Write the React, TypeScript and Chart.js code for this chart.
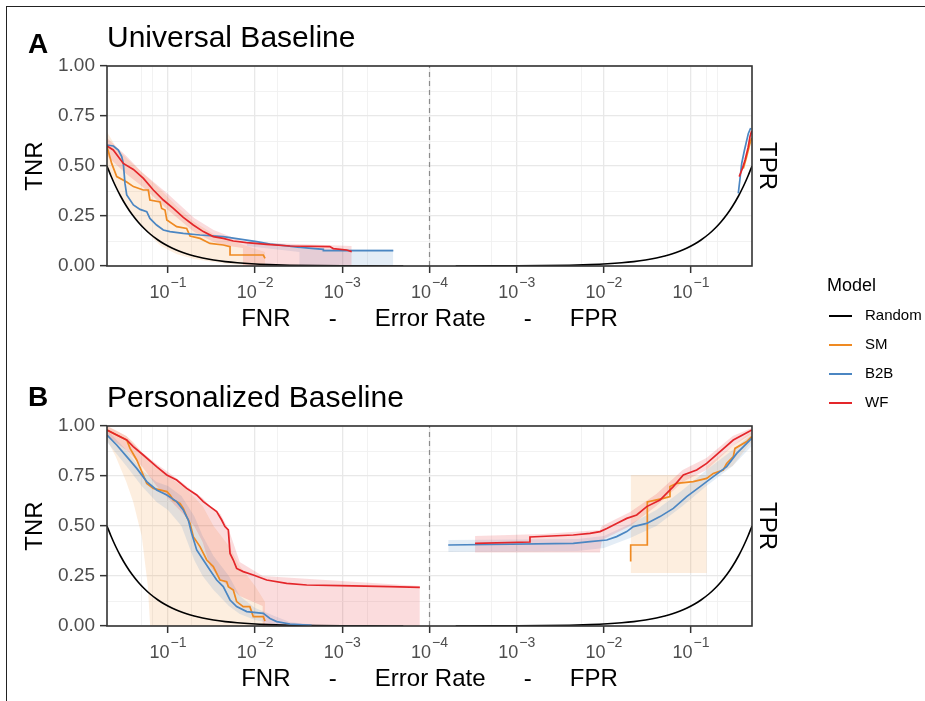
import React, { useEffect, useRef } from 'react';
import { Chart, registerables } from 'chart.js';

Chart.register(...registerables);

const FONT = "'Liberation Sans', Arial, Helvetica, sans-serif";

// ---------- axis definition ----------
const CENTER_RATE = 1e-4;
const EDGE_RATE = 0.5;
const majorRatesFNR = [0.1, 0.01, 0.001, 0.0001];
const majorRatesFPR = [0.001, 0.01, 0.1];
const minorRates = [0.2, 0.15, 0.054, 0.0056, 0.00052];
const yTickStep = 0.125;
const yMajorStep = 0.25;
const X_TITLE = 'FNR     \u2009-     \u2009Error Rate     \u2009-     \u2009FPR';

// ---------- legend ----------
const modelNames = ['Random', 'SM', 'B2B', 'WF'];
const modelColors: Record<string, string> = { Random: '#000000', SM: '#EF8A22', B2B: '#4B86C2', WF: '#E4262A' };
const bandColors: Record<string, string> = {
  SM: 'rgba(242,142,43,0.15)',
  B2B: 'rgba(75,134,194,0.15)',
  WF: 'rgba(228,38,42,0.16)',
};

// ---------- Random baseline (TNR = FNR, TPR = FPR) ----------
const randomRate = [0.5, 0.45, 0.4, 0.35, 0.3, 0.26, 0.22, 0.19, 0.16, 0.13, 0.11, 0.09, 0.075, 0.06, 0.05, 0.04, 0.03, 0.022, 0.016, 0.011, 0.007, 0.004, 0.002, 0.001, 0.0005, 0.0002];
const randomValue = [0.5, 0.45, 0.4, 0.35, 0.3, 0.26, 0.22, 0.19, 0.16, 0.13, 0.11, 0.09, 0.075, 0.06, 0.05, 0.04, 0.03, 0.022, 0.016, 0.011, 0.007, 0.004, 0.002, 0.001, 0.0005, 0.0002];

// ---------- Panel A: Universal Baseline ----------
const smA_fnr = [0.5, 0.442, 0.387, 0.297, 0.249, 0.192, 0.168, 0.161, 0.123, 0.118, 0.108, 0.103, 0.0794, 0.061, 0.0558, 0.0429, 0.033, 0.0232, 0.0194, 0.0194, 0.00805, 0.0077];
const smA_tnr = [0.597, 0.513, 0.447, 0.42, 0.397, 0.38, 0.38, 0.33, 0.32, 0.288, 0.28, 0.23, 0.197, 0.188, 0.15, 0.138, 0.113, 0.105, 0.097, 0.055, 0.055, 0.038];
const b2bA_fnr = [0.5, 0.423, 0.371, 0.339, 0.325, 0.311, 0.297, 0.249, 0.209, 0.175, 0.161, 0.135, 0.113, 0.0947, 0.0667, 0.0429, 0.0232, 0.0096, 0.00675, 0.00306, 0.00165, 0.00165, 0.00026];
const b2bA_tnr = [0.605, 0.6, 0.58, 0.547, 0.513, 0.413, 0.355, 0.305, 0.283, 0.272, 0.238, 0.205, 0.18, 0.172, 0.163, 0.155, 0.147, 0.122, 0.11, 0.093, 0.083, 0.077, 0.077];
const wfA_fnr = [0.5, 0.424, 0.325, 0.249, 0.191, 0.147, 0.113, 0.0867, 0.0667, 0.0512, 0.0393, 0.0302, 0.0232, 0.0178, 0.0125, 0.00736, 0.00398, 0.00139, 0.00127, 0.00089, 0.00078];
const wfA_tnr = [0.6, 0.58, 0.513, 0.483, 0.438, 0.38, 0.33, 0.288, 0.243, 0.205, 0.172, 0.147, 0.138, 0.125, 0.117, 0.108, 0.1, 0.097, 0.087, 0.08, 0.072];

const smA_fpr = [0.397, 0.43, 0.474, 0.495];
const smA_tpr = [0.488, 0.54, 0.613, 0.64];
const b2bA_fpr = [0.348, 0.365, 0.381, 0.41, 0.454, 0.483];
const b2bA_tpr = [0.363, 0.44, 0.513, 0.58, 0.663, 0.69];
const wfA_fpr = [0.357, 0.39, 0.416, 0.45, 0.474, 0.495];
const wfA_tpr = [0.447, 0.49, 0.53, 0.59, 0.647, 0.675];

const smA_bandRate = [0.5, 0.4, 0.3, 0.2, 0.15, 0.12, 0.08, 0.05, 0.03, 0.02, 0.0125, 0.0077];
const smA_bandLo = [0.5, 0.4, 0.3, 0.2, 0.14, 0.1, 0.06, 0.035, 0.02, 0.01, 0.005, 0.0];
const smA_bandHi = [0.67, 0.6, 0.54, 0.47, 0.42, 0.38, 0.3, 0.22, 0.16, 0.13, 0.1, 0.07];
const wfA_bandRate = [0.5, 0.3, 0.2, 0.1, 0.05, 0.03, 0.02, 0.0138, 0.0138, 0.00078];
const wfA_bandLo = [0.55, 0.46, 0.4, 0.28, 0.17, 0.12, 0.1, 0.09, 0, 0];
const wfA_bandHi = [0.64, 0.55, 0.47, 0.36, 0.24, 0.18, 0.15, 0.125, 0.12, 0.1];
const b2bA_bandRate = [0.0125, 0.0031, 0.0031, 0.00026];
const b2bA_bandLo = [0.1, 0.07, 0, 0];
const b2bA_bandHi = [0.13, 0.1, 0.085, 0.085];

// ---------- Panel B: Personalized Baseline ----------
const smB_fnr = [0.5, 0.297, 0.272, 0.228, 0.192, 0.175, 0.147, 0.103, 0.0947, 0.0868, 0.0727, 0.0667, 0.061, 0.0558, 0.0512, 0.0429, 0.0359, 0.0302, 0.0253, 0.0212, 0.0203, 0.0178, 0.0163, 0.0137, 0.0115, 0.0105, 0.00806, 0.0077];
const smB_tnr = [0.98, 0.93, 0.888, 0.83, 0.755, 0.713, 0.688, 0.672, 0.655, 0.63, 0.613, 0.588, 0.547, 0.513, 0.447, 0.397, 0.33, 0.297, 0.23, 0.222, 0.197, 0.18, 0.122, 0.097, 0.097, 0.047, 0.047, 0.025];
const b2bB_fnr = [0.5, 0.387, 0.297, 0.228, 0.175, 0.135, 0.103, 0.0794, 0.0667, 0.0584, 0.0534, 0.0468, 0.0393, 0.033, 0.0276, 0.0232, 0.0194, 0.0163, 0.0125, 0.00806, 0.00675, 0.00566, 0.00398, 0.00225];
const b2bB_tnr = [0.955, 0.905, 0.847, 0.788, 0.722, 0.68, 0.655, 0.622, 0.58, 0.53, 0.463, 0.38, 0.33, 0.28, 0.23, 0.197, 0.13, 0.097, 0.072, 0.063, 0.038, 0.022, 0.01, 0.003];
const wfB_fnr = [0.5, 0.387, 0.297, 0.25, 0.192, 0.135, 0.103, 0.0794, 0.061, 0.0468, 0.0393, 0.033, 0.0276, 0.0242, 0.0222, 0.0203, 0.0194, 0.0178, 0.0163, 0.0137, 0.0105, 0.00737, 0.00435, 0.00256, 0.00106, 0.000284, 0.000129];
const wfB_tnr = [0.98, 0.955, 0.93, 0.897, 0.855, 0.797, 0.755, 0.73, 0.688, 0.655, 0.622, 0.597, 0.572, 0.53, 0.497, 0.48, 0.363, 0.33, 0.288, 0.272, 0.255, 0.23, 0.213, 0.205, 0.202, 0.197, 0.193];

const smB_fpr = [0.0203, 0.0203, 0.0315, 0.0315, 0.048, 0.0573, 0.0573, 0.0684, 0.106, 0.151, 0.18, 0.234, 0.256, 0.305, 0.319, 0.435, 0.496];
const smB_tpr = [0.322, 0.405, 0.405, 0.62, 0.638, 0.647, 0.697, 0.713, 0.722, 0.738, 0.763, 0.78, 0.813, 0.847, 0.888, 0.922, 0.947];
const b2bB_fpr = [0.000164, 0.00446, 0.00693, 0.0108, 0.014, 0.0183, 0.0218, 0.031, 0.044, 0.0626, 0.0891, 0.127, 0.18, 0.256, 0.334, 0.435, 0.496];
const b2bB_tpr = [0.405, 0.413, 0.422, 0.43, 0.447, 0.472, 0.497, 0.513, 0.547, 0.588, 0.647, 0.697, 0.747, 0.797, 0.863, 0.913, 0.938];
const wfB_fpr = [0.000333, 0.00142, 0.00142, 0.00446, 0.00693, 0.00903, 0.0108, 0.014, 0.0183, 0.0238, 0.031, 0.044, 0.0626, 0.0815, 0.116, 0.151, 0.215, 0.305, 0.474, 0.496];
const wfB_tpr = [0.413, 0.42, 0.445, 0.455, 0.463, 0.472, 0.488, 0.513, 0.538, 0.555, 0.597, 0.63, 0.697, 0.755, 0.78, 0.813, 0.872, 0.93, 0.975, 0.98];

const smB_bandRate = [0.5, 0.4, 0.3, 0.25, 0.2, 0.17, 0.16, 0.1, 0.06, 0.04, 0.03, 0.02, 0.015, 0.01, 0.0077];
const smB_bandLo = [0.93, 0.85, 0.72, 0.62, 0.45, 0.2, 0, 0, 0, 0, 0, 0, 0, 0, 0];
const smB_bandHi = [1.0, 0.98, 0.95, 0.92, 0.87, 0.83, 0.82, 0.75, 0.68, 0.6, 0.5, 0.4, 0.3, 0.2, 0.12];
const wfB_bandRate = [0.5, 0.3, 0.2, 0.135, 0.1, 0.07, 0.05, 0.04, 0.033, 0.025, 0.02, 0.015, 0.0082, 0.0082, 0.000129];
const wfB_bandLo = [0.95, 0.88, 0.8, 0.7, 0.64, 0.57, 0.5, 0.42, 0.3, 0.23, 0.2, 0.15, 0.1, 0, 0];
const wfB_bandHi = [1.0, 0.95, 0.87, 0.81, 0.77, 0.72, 0.67, 0.64, 0.6, 0.56, 0.48, 0.32, 0.25, 0.25, 0.2];
const b2bB_bandRate = [0.5, 0.3, 0.2, 0.135, 0.1, 0.07, 0.05, 0.04, 0.03, 0.02, 0.015, 0.01, 0.006, 0.004, 0.002];
const b2bB_bandLo = [0.92, 0.8, 0.7, 0.62, 0.58, 0.5, 0.33, 0.25, 0.18, 0.1, 0.06, 0.03, 0.01, 0.003, 0];
const b2bB_bandHi = [0.98, 0.88, 0.78, 0.72, 0.7, 0.65, 0.55, 0.45, 0.35, 0.25, 0.15, 0.09, 0.05, 0.02, 0.005];

const b2bBR_bandRate = [0.000164, 0.005, 0.01, 0.02, 0.04, 0.08, 0.15, 0.3, 0.496];
const b2bBR_bandLo = [0.37, 0.375, 0.39, 0.44, 0.5, 0.6, 0.7, 0.8, 0.9];
const b2bBR_bandHi = [0.43, 0.435, 0.45, 0.51, 0.58, 0.68, 0.78, 0.88, 0.96];
const wfBR_bandRate = [0.000333, 0.002, 0.009, 0.0095, 0.02, 0.04, 0.08, 0.15, 0.3, 0.496];
const wfBR_bandLo = [0.367, 0.367, 0.367, 0.43, 0.5, 0.6, 0.72, 0.78, 0.9, 0.96];
const wfBR_bandHi = [0.45, 0.46, 0.48, 0.5, 0.57, 0.66, 0.78, 0.84, 0.95, 0.99];
const smBR_bandRate = [0.0203, 0.151, 0.151, 0.3, 0.45, 0.496];
const smBR_bandLo = [0.265, 0.265, 0.73, 0.8, 0.9, 0.92];
const smBR_bandHi = [0.755, 0.755, 0.8, 0.9, 0.96, 0.97];

// ---------- helpers ----------
const LOG_CENTER = Math.log10(CENTER_RATE);
const fnrX = (r: number) => -(Math.log10(r) - LOG_CENTER);
const fprX = (r: number) => Math.log10(r) - LOG_CENTER;
const sideX = (side: string) => (side === 'FNR' ? fnrX : fprX);

type Curve = { side: string; model: string; rate: number[]; value: number[] };
type Band = { side: string; model: string; rate: number[]; lo: number[]; hi: number[] };
type PanelCfg = { title: string; tag: string; tagDy: number; curves: Curve[]; bands: Band[] };

const panelA: PanelCfg = {
  title: 'Universal Baseline',
  tag: 'A',
  tagDy: -13,
  bands: [
    { side: 'FNR', model: 'SM', rate: smA_bandRate, lo: smA_bandLo, hi: smA_bandHi },
    { side: 'FNR', model: 'B2B', rate: b2bA_bandRate, lo: b2bA_bandLo, hi: b2bA_bandHi },
    { side: 'FNR', model: 'WF', rate: wfA_bandRate, lo: wfA_bandLo, hi: wfA_bandHi },
  ],
  curves: [
    { side: 'FNR', model: 'Random', rate: randomRate, value: randomValue },
    { side: 'FPR', model: 'Random', rate: randomRate, value: randomValue },
    { side: 'FNR', model: 'SM', rate: smA_fnr, value: smA_tnr },
    { side: 'FPR', model: 'SM', rate: smA_fpr, value: smA_tpr },
    { side: 'FNR', model: 'B2B', rate: b2bA_fnr, value: b2bA_tnr },
    { side: 'FPR', model: 'B2B', rate: b2bA_fpr, value: b2bA_tpr },
    { side: 'FNR', model: 'WF', rate: wfA_fnr, value: wfA_tnr },
    { side: 'FPR', model: 'WF', rate: wfA_fpr, value: wfA_tpr },
  ],
};

const panelB: PanelCfg = {
  title: 'Personalized Baseline',
  tag: 'B',
  tagDy: -20,
  bands: [
    { side: 'FNR', model: 'SM', rate: smB_bandRate, lo: smB_bandLo, hi: smB_bandHi },
    { side: 'FNR', model: 'B2B', rate: b2bB_bandRate, lo: b2bB_bandLo, hi: b2bB_bandHi },
    { side: 'FNR', model: 'WF', rate: wfB_bandRate, lo: wfB_bandLo, hi: wfB_bandHi },
    { side: 'FPR', model: 'SM', rate: smBR_bandRate, lo: smBR_bandLo, hi: smBR_bandHi },
    { side: 'FPR', model: 'B2B', rate: b2bBR_bandRate, lo: b2bBR_bandLo, hi: b2bBR_bandHi },
    { side: 'FPR', model: 'WF', rate: wfBR_bandRate, lo: wfBR_bandLo, hi: wfBR_bandHi },
  ],
  curves: [
    { side: 'FNR', model: 'Random', rate: randomRate, value: randomValue },
    { side: 'FPR', model: 'Random', rate: randomRate, value: randomValue },
    { side: 'FNR', model: 'SM', rate: smB_fnr, value: smB_tnr },
    { side: 'FPR', model: 'SM', rate: smB_fpr, value: smB_tpr },
    { side: 'FNR', model: 'B2B', rate: b2bB_fnr, value: b2bB_tnr },
    { side: 'FPR', model: 'B2B', rate: b2bB_fpr, value: b2bB_tpr },
    { side: 'FNR', model: 'WF', rate: wfB_fnr, value: wfB_tnr },
    { side: 'FPR', model: 'WF', rate: wfB_fpr, value: wfB_tpr },
  ],
};

const lineOrder: Record<string, number> = { Random: 40, SM: 30, B2B: 20, WF: 10 };

function buildDatasets(cfg: PanelCfg) {
  const ds: any[] = [];
  cfg.bands.forEach((b, i) => {
    const tx = sideX(b.side);
    ds.push({
      data: b.rate.map((r, k) => ({ x: tx(r), y: b.lo[k] })),
      borderColor: 'rgba(0,0,0,0)',
      borderWidth: 0,
      pointRadius: 0,
      fill: false,
      order: 200 - i * 2,
    });
    ds.push({
      data: b.rate.map((r, k) => ({ x: tx(r), y: b.hi[k] })),
      borderColor: 'rgba(0,0,0,0)',
      borderWidth: 0,
      pointRadius: 0,
      fill: '-1',
      backgroundColor: bandColors[b.model],
      order: 199 - i * 2,
    });
  });
  ds.push({
    data: [
      { x: fnrX(CENTER_RATE), y: 0 },
      { x: fnrX(CENTER_RATE), y: 1 },
    ],
    borderColor: '#8C8C8C',
    borderDash: [5, 4],
    borderWidth: 1.2,
    pointRadius: 0,
    fill: false,
    order: 60,
  });
  cfg.curves.forEach((c) => {
    const tx = sideX(c.side);
    ds.push({
      label: c.model,
      data: c.rate.map((r, k) => ({ x: tx(r), y: c.value[k] })),
      borderColor: modelColors[c.model],
      borderWidth: c.model === 'Random' ? 1.6 : 1.7,
      pointRadius: 0,
      fill: false,
      tension: 0,
      cubicInterpolationMode: c.model === 'Random' ? 'monotone' : 'default',
      order: lineOrder[c.model],
    });
  });
  return ds;
}

const xTickValues = [
  ...majorRatesFNR.map(fnrX),
  ...majorRatesFPR.map(fprX),
  ...minorRates.map(fnrX),
  ...minorRates.map(fprX),
].sort((a, b) => a - b);

const isInt = (v: number) => Math.abs(v - Math.round(v)) < 1e-6;
const isYMajor = (v: number) => Math.abs(v / yMajorStep - Math.round(v / yMajorStep)) < 1e-6;

const decorPlugin = {
  id: 'panelDecor',
  afterDatasetsDraw(chart: any) {
    const { ctx, chartArea: a } = chart;
    ctx.save();
    ctx.strokeStyle = '#333333';
    ctx.lineWidth = 1.6;
    ctx.strokeRect(a.left, a.top, a.right - a.left, a.bottom - a.top);
    ctx.restore();
  },
  afterDraw(chart: any, _args: any, opts: any) {
    const { ctx, chartArea: a } = chart;
    const xs = chart.scales.x;
    ctx.save();
    ctx.fillStyle = '#4D4D4D';
    ctx.textBaseline = 'alphabetic';
    ctx.textAlign = 'left';
    const base = a.bottom + 32;
    const items = [
      ...majorRatesFNR.map((r) => ({ u: fnrX(r), e: Math.round(Math.log10(r)) })),
      ...majorRatesFPR.map((r) => ({ u: fprX(r), e: Math.round(Math.log10(r)) })),
    ];
    for (const it of items) {
      ctx.font = `18px ${FONT}`;
      const w1 = ctx.measureText('10').width;
      const expText = '\u2212' + Math.abs(it.e);
      ctx.font = `14px ${FONT}`;
      const w2 = ctx.measureText(expText).width;
      const x0 = xs.getPixelForValue(it.u) - (w1 + 1 + w2) / 2;
      ctx.font = `18px ${FONT}`;
      ctx.fillText('10', x0, base);
      ctx.font = `14px ${FONT}`;
      ctx.fillText(expText, x0 + w1 + 1, base - 11);
    }
    ctx.fillStyle = '#000';
    ctx.font = `bold 28px ${FONT}`;
    ctx.fillText(opts.tag, 28, a.top + opts.tagDy);
    ctx.restore();
  },
};

function buildConfig(cfg: PanelCfg): any {
  return {
    type: 'line',
    data: { datasets: buildDatasets(cfg) },
    plugins: [decorPlugin],
    options: {
      animation: false,
      responsive: false,
      maintainAspectRatio: false,
      devicePixelRatio: 1,
      events: [],
      layout: { padding: { left: 0, right: 143, top: 0, bottom: 0 } },
      plugins: {
        legend: { display: false },
        tooltip: { enabled: false },
        title: {
          display: true,
          text: cfg.title,
          align: 'start',
          fullSize: false,
          color: '#000',
          font: { family: FONT, size: 30, weight: 'normal', lineHeight: 1.2 },
          padding: { top: 21, bottom: 9 },
        },
        panelDecor: { tag: cfg.tag, tagDy: cfg.tagDy },
      },
      scales: {
        x: {
          type: 'linear',
          min: fnrX(EDGE_RATE),
          max: fprX(EDGE_RATE),
          afterBuildTicks: (s: any) => {
            s.ticks = xTickValues.map((v) => ({ value: v }));
          },
          afterFit: (s: any) => {
            s.height = 75;
          },
          ticks: { callback: () => '', autoSkip: false, maxRotation: 0, minRotation: 0, padding: 0 },
          grid: {
            color: (c: any) => (c.tick && isInt(c.tick.value) ? '#E8E8E8' : '#F1F1F1'),
            lineWidth: (c: any) => (c.tick && isInt(c.tick.value) ? 1.3 : 0.9),
            tickColor: (c: any) => (c.tick && isInt(c.tick.value) ? '#333333' : 'rgba(0,0,0,0)'),
            tickLength: 7,
            tickWidth: 1.5,
          },
          border: { display: false },
          title: {
            display: true,
            text: X_TITLE,
            color: '#000',
            font: { family: FONT, size: 24, lineHeight: 1.2 },
            padding: { top: 0, bottom: 7.4 },
          },
        },
        y: {
          type: 'linear',
          position: 'left',
          min: 0,
          max: 1,
          afterFit: (s: any) => {
            s.width = 107;
          },
          ticks: {
            stepSize: yTickStep,
            autoSkip: false,
            callback: (v: number) => (isYMajor(v) ? v.toFixed(2) : ''),
            color: '#4D4D4D',
            font: { family: FONT, size: 19 },
            padding: 5,
          },
          grid: {
            color: (c: any) => (c.tick && isYMajor(c.tick.value) ? '#E8E8E8' : '#F1F1F1'),
            lineWidth: (c: any) => (c.tick && isYMajor(c.tick.value) ? 1.3 : 0.9),
            tickColor: (c: any) => (c.tick && isYMajor(c.tick.value) ? '#333333' : 'rgba(0,0,0,0)'),
            tickLength: 7,
            tickWidth: 1.5,
          },
          border: { display: false },
          title: {
            display: true,
            text: 'TNR',
            color: '#000',
            font: { family: FONT, size: 24, lineHeight: 1.2 },
            padding: { top: 21, bottom: 0 },
          },
        },
        y2: {
          type: 'linear',
          position: 'right',
          min: 0,
          max: 1,
          afterFit: (s: any) => {
            s.width = 30;
          },
          ticks: { display: false },
          grid: { display: false, drawOnChartArea: false, drawTicks: false },
          border: { display: false },
          title: {
            display: true,
            text: 'TPR',
            color: '#000',
            font: { family: FONT, size: 24, lineHeight: 1.2 },
            padding: { top: 1, bottom: 0 },
          },
        },
      },
    },
  };
}

function Panel({ top, cfg }: { top: number; cfg: PanelCfg }) {
  const ref = useRef<HTMLCanvasElement | null>(null);
  useEffect(() => {
    if (!ref.current) return;
    const chart = new Chart(ref.current, buildConfig(cfg));
    return () => chart.destroy();
  }, [cfg]);
  return (
    <canvas
      ref={ref}
      width={925}
      height={341}
      style={{ position: 'absolute', left: 0, top, width: 925, height: 341 }}
    />
  );
}

const legendTitle = 'Model';

function Legend() {
  const baselines = [320, 349, 378, 407];
  return (
    <>
      <div
        style={{
          position: 'absolute',
          left: 827,
          top: 275.8,
          font: `18px ${FONT}`,
          lineHeight: '18px',
          color: '#000',
          whiteSpace: 'nowrap',
        }}
      >
        {legendTitle}
      </div>
      {modelNames.map((m, i) => (
        <React.Fragment key={m}>
          <div
            style={{
              position: 'absolute',
              left: 829,
              top: baselines[i] - 5,
              width: 23,
              height: 1.6,
              background: modelColors[m],
            }}
          />
          <div
            style={{
              position: 'absolute',
              left: 865,
              top: baselines[i] - 12.8,
              font: `15px ${FONT}`,
              lineHeight: '15px',
              color: '#000',
              whiteSpace: 'nowrap',
            }}
          >
            {m}
          </div>
        </React.Fragment>
      ))}
    </>
  );
}

export default function App() {
  return (
    <div
      style={{
        position: 'absolute',
        left: 0,
        top: 0,
        width: 925,
        height: 701,
        overflow: 'hidden',
        background: '#fff',
      }}
    >
      <div
        style={{
          position: 'absolute',
          left: 6,
          top: 6,
          width: 1000,
          height: 1000,
          borderTop: '1.5px solid #222',
          borderLeft: '1.5px solid #222',
        }}
      />
      <Panel top={0} cfg={panelA} />
      <Panel top={360} cfg={panelB} />
      <Legend />
    </div>
  );
}
